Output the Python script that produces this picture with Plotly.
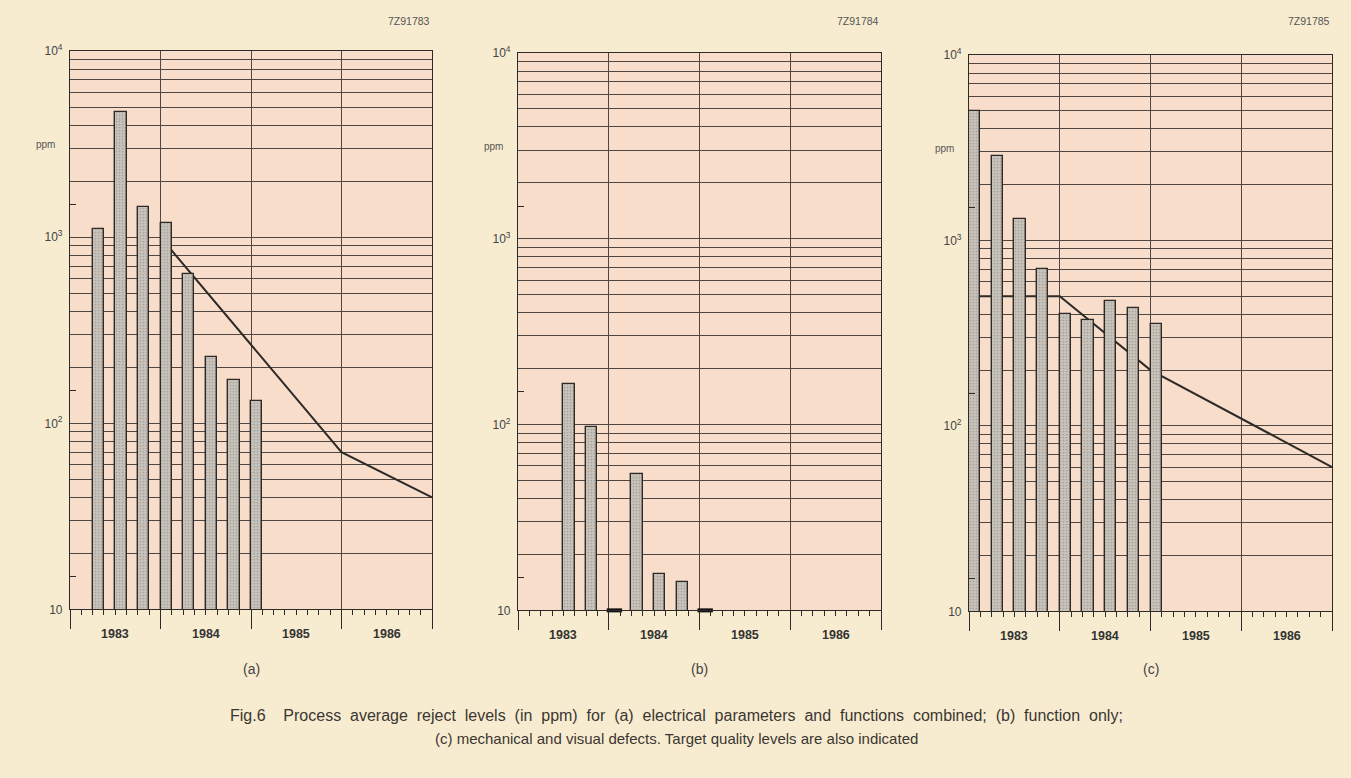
import plotly.graph_objects as go

W, H = 1351, 778

# Quarterly process-average reject levels (ppm); each value is the start of its quarter
a_quarters = [1983.25, 1983.5, 1983.75, 1984.0, 1984.25, 1984.5, 1984.75, 1985.0]
a_ppm = [1100, 4700, 1460, 1190, 630, 228, 171, 131]
a_target_x = [1984.0, 1986.0, 1987.0]
a_target_ppm = [1000, 70, 40]

b_quarters = [1983.5, 1983.75, 1984.25, 1984.5, 1984.75]
b_ppm = [166, 97, 54, 15.6, 14.2]
b_nil_quarters = [1984.0, 1985.0]

c_quarters = [1983.0, 1983.25, 1983.5, 1983.75, 1984.0, 1984.25, 1984.5, 1984.75, 1985.0]
c_ppm = [5000, 2850, 1310, 700, 400, 372, 473, 430, 356]
c_target_x = [1983.0, 1984.0, 1985.0, 1987.0]
c_target_ppm = [500, 500, 200, 60]

years = [1983, 1984, 1985, 1986]
year_labels = ["1983", "1984", "1985", "1986"]
codes = ["7Z91783", "7Z91784", "7Z91785"]
panel_tags = ["(a)", "(b)", "(c)"]
decade_vals = [10, 100, 1000, 10000]
decade_text = ["10", "10<sup>2</sup>", "10<sup>3</sup>", "10<sup>4</sup>"]
caption_lines = [
    "Fig.6  Process average reject levels (in ppm) for (a) electrical parameters and "
    "functions combined; (b) function only;",
    "(c) mechanical and visual defects. Target quality levels are also indicated",
]

BAR_W = 0.125
INK = "#2e2a27"
GRID = "#4d4642"
PAPER = "#f8ecd0"
PLOT_BG = "#f8ddcb"
BAR_FILL = "#c9c4bb"
FONT = "Liberation Sans, Arial, sans-serif"

# panel frames in pixels: left, right, top, bottom
frames = [(70, 432, 43, 613), (518, 881, 45, 614), (969, 1332, 47, 615)]

minor_y = [m * 10 ** e for e in range(1, 4) for m in range(2, 10)]
minor_x = [1983 + k / 8 for k in range(33) if k % 8 != 0]

fig = go.Figure()
layout = dict(
    width=W, height=H, margin=dict(l=0, r=0, t=0, b=0),
    paper_bgcolor=PAPER, plot_bgcolor=PLOT_BG, showlegend=False,
    font=dict(family=FONT, color=INK),
)
annotations = []


def ax_name(letter, n):
    return f"{letter}axis" if n == 1 else f"{letter}axis{n}"


def ax_id(letter, n):
    return letter if n == 1 else f"{letter}{n}"


for i, (l, r, t, b) in enumerate(frames):
    n = i + 1
    o = i + 4  # overlaid y axis carrying the bars, so they sit above the target line
    layout[ax_name("x", n)] = dict(
        domain=[l / W, r / W], anchor=ax_id("y", n), range=[1983, 1987],
        showline=True, mirror=True, linecolor=INK, linewidth=1.2,
        tickmode="array", tickvals=[1983, 1984, 1985, 1986, 1987],
        showticklabels=False, ticks="outside", ticklen=19, tickwidth=1.2, tickcolor=INK,
        showgrid=True, gridcolor=GRID, gridwidth=1, zeroline=False,
        minor=dict(tickmode="array", tickvals=minor_x, ticks="outside", ticklen=5,
                   tickwidth=1, tickcolor=INK, showgrid=False),
    )
    layout[ax_name("y", n)] = dict(
        domain=[1 - b / H, 1 - t / H], anchor=ax_id("x", n), type="log", range=[1, 4],
        showline=True, mirror=True, linecolor=INK, linewidth=1.2,
        tickmode="array", tickvals=decade_vals, ticktext=decade_text, ticks="",
        ticklabelstandoff=4,
        showgrid=True, gridcolor=GRID, gridwidth=1.1, zeroline=False,
        tickfont=dict(size=12, color="#444"),
        minor=dict(tickmode="array", tickvals=minor_y, showgrid=True, gridcolor=GRID,
                   gridwidth=1, ticks=""),
    )
    layout[ax_name("y", o)] = dict(
        overlaying=ax_id("y", n), anchor=ax_id("x", n), type="log", range=[1, 4],
        side="left", tickmode="array", tickvals=[15, 150, 1500], ticks="inside",
        ticklen=6, tickwidth=1, tickcolor=INK, showticklabels=False, showgrid=False,
        showline=False, zeroline=False,
    )
    for yr, lab in zip(years, year_labels):
        annotations.append(dict(
            x=yr + 0.5, y=1 - (b + 25) / H, xref=ax_id("x", n), yref="paper", text=lab,
            showarrow=False, xanchor="center", yanchor="middle",
            font=dict(size=12.5, color="#333", family=FONT, weight="bold"),
        ))
    annotations.append(dict(
        x=r / W, y=1 - 12 / H, xref="paper", yref="paper", text=codes[i],
        showarrow=False, xanchor="right", yanchor="middle",
        font=dict(size=10.5, color="#555", family=FONT),
    ))
    annotations.append(dict(
        x=(l - 25) / W, y=1 - (t + 95) / H, xref="paper", yref="paper", text="ppm",
        showarrow=False, xanchor="center", yanchor="middle",
        font=dict(size=10, color="#555", family=FONT),
    ))
    annotations.append(dict(
        x=(l + r) / 2 / W, y=1 - 674 / H, xref="paper", yref="paper", text=panel_tags[i],
        showarrow=False, xanchor="center", yanchor="middle",
        font=dict(size=14, color="#444", family=FONT),
    ))

bar_style = dict(
    width=BAR_W,
    marker=dict(color=BAR_FILL, line=dict(color=INK, width=1.4),
                pattern=dict(shape=".", fgcolor="#a69f96", bgcolor=BAR_FILL,
                             size=3, solidity=0.25, fillmode="replace")),
    hoverinfo="skip",
)
line_style = dict(mode="lines", line=dict(color=INK, width=2), hoverinfo="skip")


def centres(starts):
    return [s + BAR_W / 2 for s in starts]


# (a)
fig.add_trace(go.Scatter(x=a_target_x, y=a_target_ppm, xaxis="x", yaxis="y", **line_style))
fig.add_trace(go.Bar(x=centres(a_quarters), y=a_ppm, xaxis="x", yaxis="y4", **bar_style))
# (b)
fig.add_trace(go.Scatter(
    x=centres(b_nil_quarters), y=[10] * len(b_nil_quarters), xaxis="x2", yaxis="y2",
    mode="markers", cliponaxis=False, hoverinfo="skip",
    marker=dict(symbol="line-ew", size=11, line=dict(color="#111", width=4)),
))
fig.add_trace(go.Bar(x=centres(b_quarters), y=b_ppm, xaxis="x2", yaxis="y5", **bar_style))
# (c)
fig.add_trace(go.Scatter(x=c_target_x, y=c_target_ppm, xaxis="x3", yaxis="y3", **line_style))
fig.add_trace(go.Bar(x=centres(c_quarters), y=c_ppm, xaxis="x3", yaxis="y6", **bar_style))

# the first caption line is set full measure, so its word gaps are opened up a little
caption_styles = [
    dict(text=caption_lines[0].replace(" ", " \u00a0"), ypx=721, size=16),
    dict(text=caption_lines[1], ypx=745, size=15),
]
for cs in caption_styles:
    annotations.append(dict(
        x=676 / W, y=1 - cs["ypx"] / H, xref="paper", yref="paper", text=cs["text"],
        showarrow=False, xanchor="center", yanchor="middle", align="center",
        font=dict(size=cs["size"], color="#3a3632", family=FONT),
    ))

layout["annotations"] = annotations
layout["bargap"] = 0
fig.update_layout(**layout)
fig.write_html("out.html")
